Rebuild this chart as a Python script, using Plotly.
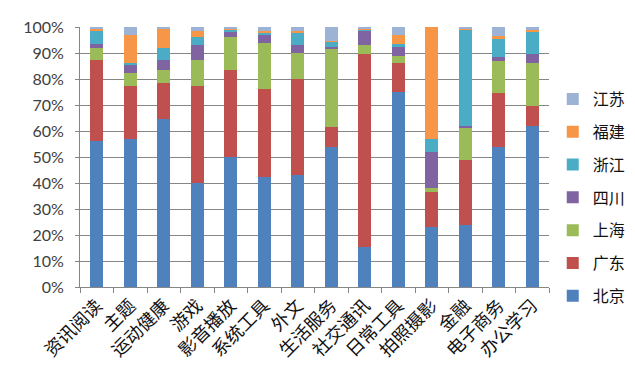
import plotly.graph_objects as go

categories = ["资讯阅读", "主题", "运动健康", "游戏", "影音播放", "系统工具", "外文",
              "生活服务", "社交通讯", "日常工具", "拍照摄影", "金融", "电子商务", "办公学习"]

beijing   = [56, 57, 64.5, 40, 50, 42.5, 43, 54, 15.5, 75, 23, 24, 54, 62]
guangdong = [31.5, 20.5, 14, 37.5, 33.5, 33.5, 37, 7.5, 74, 11, 13.5, 25, 20.5, 7.5]
shanghai  = [4.5, 5, 5, 10, 12.5, 18, 10, 30, 3.5, 3, 1.5, 12, 12.5, 16.5]
sichuan   = [1.5, 3, 4, 5.5, 2, 3, 3, 1, 5.5, 3.5, 14, 1, 1.5, 3.5]
zhejiang  = [5, 0.5, 4.5, 3, 1, 1, 5, 2, 0.5, 1, 4.8, 37, 7, 8.5]
fujian    = [1, 11, 7.5, 2.5, 0.5, 0.5, 0.5, 0.2, 0.3, 3.5, 43.2, 0.5, 1, 1]
jiangsu   = [0.5, 3, 0.5, 1.5, 0.5, 1.5, 1.5, 5.3, 0.7, 3, 0, 0.5, 3.5, 1]

series = [
    ("北京", beijing, "#4F81BD"),
    ("广东", guangdong, "#C0504D"),
    ("上海", shanghai, "#9BBB59"),
    ("四川", sichuan, "#8064A2"),
    ("浙江", zhejiang, "#4BACC6"),
    ("福建", fujian, "#F79646"),
    ("江苏", jiangsu, "#9DB3D6"),
]

y_ticks = [0, 10, 20, 30, 40, 50, 60, 70, 80, 90, 100]

fig = go.Figure()
n = len(series)
for i, (name, vals, color) in enumerate(series):
    fig.add_trace(go.Bar(
        x=categories, y=vals, name=name, legendgroup=name,
        legendrank=n - i,
        marker=dict(color=color, line=dict(width=0)),
    ))

fig.add_shape(type="line", xref="paper", yref="paper",
              x0=-0.2, x1=1.25, y0=-0.378, y1=-0.378,
              line=dict(color="#A6A6A6", width=2))

fig.update_layout(
    width=635, height=381,
    barmode="stack", barnorm="percent", bargap=0.61,
    paper_bgcolor="white", plot_bgcolor="white",
    margin=dict(l=72, r=94, t=19, b=102),
    font=dict(family="Noto Sans CJK SC", color="#222222"),
    legend=dict(
        traceorder="grouped", x=1.008, xanchor="left", y=0.344, yanchor="middle",
        font=dict(family="Noto Sans CJK SC", size=16, color="#111111"),
        tracegroupgap=9, itemwidth=30,
    ),
    xaxis=dict(
        tickangle=-45, tickfont=dict(family="Noto Sans CJK SC", size=18, color="#111111"),
        showline=True, linecolor="#868686", linewidth=1,
        ticks="outside", ticklen=5, tickcolor="#868686", tickson="boundaries",
        showgrid=False, automargin=False,
    ),
    yaxis=dict(
        range=[0, 100], tickvals=y_ticks, ticktext=[f"{v}%" for v in y_ticks],
        tickfont=dict(family="Lato", size=16, color="#404040"),
        showline=True, linecolor="#868686", linewidth=1,
        ticks="outside", ticklen=4, tickcolor="#868686", ticklabelstandoff=8,
        showgrid=True, gridcolor="#868686", gridwidth=1, zeroline=False,
        automargin=False,
    ),
)

fig.write_html("out.html")
